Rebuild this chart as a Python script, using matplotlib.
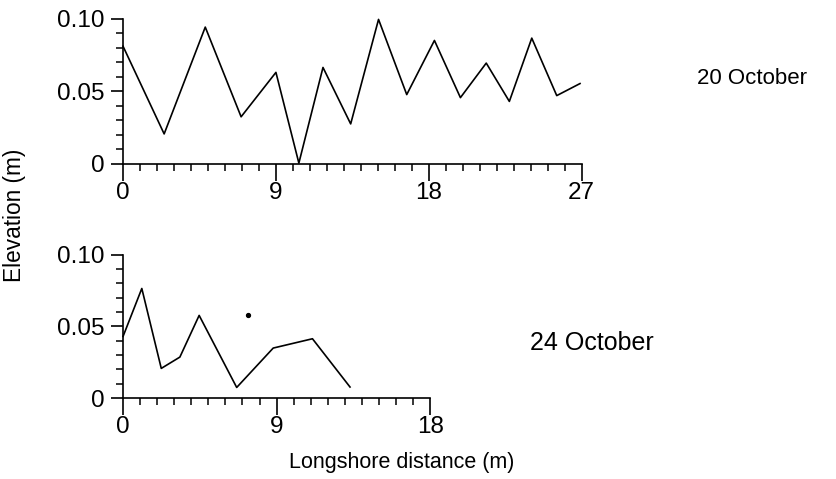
import matplotlib
matplotlib.use("Agg")
import matplotlib.pyplot as plt
from matplotlib.ticker import MultipleLocator, FuncFormatter

plt.rcParams['font.family'] = ['Liberation Sans', 'DejaVu Sans']
plt.rcParams['font.size'] = 15.5

# 20 October profile
x_oct20 = [0, 2.42, 4.84, 6.95, 9.0, 10.35, 11.77, 13.4, 15.04, 16.7,
           18.33, 19.86, 21.38, 22.74, 24.06, 25.53, 26.9]
z_oct20 = [0.081, 0.0206, 0.0942, 0.0324, 0.063, 0.0005, 0.0664, 0.0275,
           0.0995, 0.0477, 0.085, 0.0456, 0.0694, 0.043, 0.0866, 0.047, 0.0553]

# 24 October profile
x_oct24 = [0, 1.1, 2.24, 3.33, 4.46, 6.66, 8.8, 11.1, 13.3]
z_oct24 = [0.043, 0.0765, 0.0207, 0.0286, 0.0577, 0.0074, 0.0349, 0.0414, 0.0077]
x_dot = [7.35]
z_dot = [0.058]

def ylab(v, pos):
    if abs(v) < 1e-9:
        return "0"
    return "%.2f" % v

def style(ax, xmax):
    ax.set_xlim(0, xmax)
    ax.set_ylim(0, 0.1)
    ax.spines['top'].set_visible(False)
    ax.spines['right'].set_visible(False)
    ax.spines['left'].set_linewidth(1.2)
    ax.spines['bottom'].set_linewidth(1.2)
    ax.xaxis.set_major_locator(MultipleLocator(9))
    ax.xaxis.set_minor_locator(MultipleLocator(1))
    ax.yaxis.set_major_locator(MultipleLocator(0.05))
    ax.yaxis.set_minor_locator(MultipleLocator(0.01))
    ax.yaxis.set_major_formatter(FuncFormatter(ylab))
    ax.tick_params(which='major', direction='out', length=12, width=1.2,
                   pad=1, labelsize=17.5)
    ax.tick_params(which='minor', direction='out', length=5, width=1.1)
    ax.tick_params(axis='y', which='major', length=9, pad=4)

fig = plt.figure(figsize=(8.37, 4.79), dpi=100)

ax1 = fig.add_axes([0.147, 0.658, 0.548, 0.303])
ax1.plot(x_oct20, z_oct20, color='black', lw=1.2, clip_on=False)
style(ax1, 27)

ax2 = fig.add_axes([0.147, 0.169, 0.367, 0.299])
ax2.plot(x_oct24, z_oct24, color='black', lw=1.2, clip_on=False)
ax2.plot(x_dot, z_dot, 'o', color='black', ms=2.8)
style(ax2, 18)

fig.text(0.898, 0.837, "20 October", ha='center', va='center', fontsize=16)
fig.text(0.707, 0.284, "24 October", ha='center', va='center', fontsize=18)
fig.text(0.017, 0.551, "Elevation (m)", rotation=90, ha='center', va='center',
         fontsize=16.3)
fig.text(0.48, 0.035, "Longshore distance (m)", ha='center', va='center')

fig.savefig("out.png", dpi=100)
